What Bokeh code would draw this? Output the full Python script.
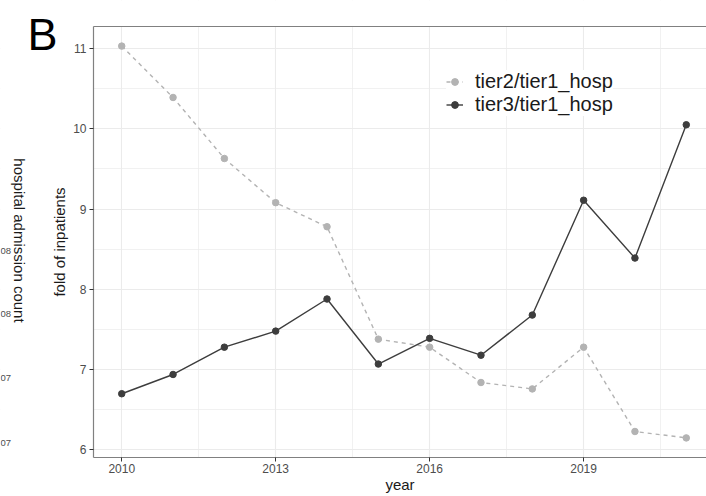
import math
from bokeh.plotting import figure
from bokeh.models import (Range1d, FixedTicker, LinearAxis, Label, Legend,
                          LegendItem, BoxAnnotation)
from bokeh.embed import file_html
from bokeh.resources import INLINE

# ---- data ----
years = [2010, 2011, 2012, 2013, 2014, 2015, 2016, 2017, 2018, 2019, 2020, 2021]
tier2_ratio = [11.03, 10.39, 9.63, 9.08, 8.78, 7.38, 7.28, 6.84, 6.76, 7.28, 6.23, 6.15]
tier3_ratio = [6.70, 6.94, 7.28, 7.48, 7.88, 7.07, 7.39, 7.18, 7.68, 9.11, 8.39, 10.05]
series_names = ["tier2/tier1_hosp", "tier3/tier1_hosp"]
x_ticks = [2010, 2013, 2016, 2019]
x_minor = [2011.5, 2014.5, 2017.5, 2020.5]
y_ticks = [6, 7, 8, 9, 10, 11]
y_minor = [6.5, 7.5, 8.5, 9.5, 10.5]
panel_letter = "B"
x_title = "year"
y_title = "fold of inpatients"
neighbour_title = "hospital admission count"
neighbour_tick_text = ["08", "08", "07", "07"]

# ---- layout (pixels) ----
W, H = 706, 496
PL, PR, PT, PB = 93, 714, 26, 457          # panel box in canvas pixels
neighbour_tick_y = [250, 313, 377, 442]     # canvas y of the neighbour's labels

FONT = "Liberation Sans"
x_lo = min(years) - 0.05 * (max(years) - min(years))
x_hi = max(years) + 0.05 * (max(years) - min(years))
allv = tier2_ratio + tier3_ratio
y_lo = min(allv) - 0.05 * (max(allv) - min(allv))
y_hi = max(allv) + 0.05 * (max(allv) - min(allv))
sx = (PR - PL) / (x_hi - x_lo)
sy = (PB - PT) / (y_hi - y_lo)

p = figure(width=W, height=H, output_backend="svg", toolbar_location=None,
           x_range=Range1d(x_lo - PL / sx, x_lo + (W - PL) / sx),
           y_range=Range1d(y_lo - (H - PB) / sy, y_hi + PT / sy),
           min_border=0)
p.background_fill_color = "white"
p.border_fill_color = "white"
p.outline_line_color = None

GRID = "#ebebeb"
BORDER = "#808080"
xa, ya = p.xaxis[0], p.yaxis[0]
xa.fixed_location = y_lo
xa.bounds = (x_lo, x_hi)
ya.fixed_location = x_lo
ya.bounds = (y_lo, y_hi)
for ax, tk, mn in ((xa, x_ticks, x_minor), (ya, y_ticks, y_minor)):
    ax.ticker = FixedTicker(ticks=tk, minor_ticks=mn)
    ax.axis_line_color = BORDER
    ax.axis_line_width = 1.2
    ax.major_tick_line_color = "#333333"
    ax.major_tick_out = 4
    ax.major_tick_in = 0
    ax.minor_tick_out = 0
    ax.minor_tick_in = 0
    ax.major_label_text_font = FONT
    ax.major_label_text_font_size = "12px"
    ax.major_label_text_color = "#4d4d4d"
    ax.axis_label_text_font = FONT
    ax.axis_label_text_font_size = "15px"
    ax.axis_label_text_font_style = "normal"
    ax.axis_label_text_color = "#1a1a1a"
xa.axis_label = x_title
ya.axis_label = y_title
xa.major_label_standoff = 2
xa.axis_label_standoff = 0
ya.major_label_standoff = 3
ya.axis_label_standoff = 2

for g in (p.xgrid[0], p.ygrid[0]):
    g.grid_line_color = GRID
    g.grid_line_width = 1.1
    g.minor_grid_line_color = GRID
    g.minor_grid_line_width = 0.7

# white mask outside the panel so the grid stays inside it
for kw in (dict(right=x_lo), dict(top=y_lo), dict(bottom=y_hi)):
    p.add_layout(BoxAnnotation(fill_color="white", fill_alpha=1.0,
                               line_color=None, level="underlay", **kw))

top_axis = LinearAxis(fixed_location=y_hi, bounds=(x_lo, x_hi),
                      ticker=FixedTicker(ticks=[]), axis_line_color=BORDER,
                      axis_line_width=1.2, major_tick_out=0, major_tick_in=0,
                      minor_tick_out=0, minor_tick_in=0,
                      major_label_text_font_size="0px")
p.add_layout(top_axis, "above")

C2 = "#b3b3b3"
C3 = "#3d3d3d"
l2 = p.line(years, tier2_ratio, line_color=C2, line_width=1.4, line_dash="4 4")
s2 = p.scatter(years, tier2_ratio, size=6.5, fill_color=C2, line_color=C2)
l3 = p.line(years, tier3_ratio, line_color=C3, line_width=1.4)
s3 = p.scatter(years, tier3_ratio, size=6.5, fill_color=C3, line_color=C3)

legend = Legend(items=[LegendItem(label=series_names[0], renderers=[l2, s2]),
                       LegendItem(label=series_names[1], renderers=[l3, s3])],
                location=(446, 380), orientation="vertical",
                background_fill_color="white", background_fill_alpha=1.0,
                border_line_color=None, padding=7, spacing=0, margin=0,
                glyph_width=17, glyph_height=23, label_height=23,
                label_standoff=12, label_text_font=FONT,
                label_text_font_size="20px", label_text_color="#1a1a1a")
p.add_layout(legend)

p.add_layout(Label(x=27, y=H - 34, x_units="screen", y_units="screen",
                   text=panel_letter, text_font=FONT, text_font_size="45px",
                   text_color="black", text_baseline="middle",
                   text_align="left"))
p.add_layout(Label(x=18.5, y=H - 240, x_units="screen", y_units="screen",
                   text=neighbour_title, text_font=FONT, text_font_size="15px",
                   text_color="#1a1a1a", angle=-math.pi / 2,
                   text_align="center", text_baseline="middle"))
for t, yy in zip(neighbour_tick_text, neighbour_tick_y):
    p.add_layout(Label(x=10.5, y=H - yy, x_units="screen", y_units="screen",
                       text=t, text_font=FONT, text_font_size="9.5px",
                       text_color="#4d4d4d", text_align="right",
                       text_baseline="middle"))

open("out.html", "w").write(file_html(p, INLINE))
